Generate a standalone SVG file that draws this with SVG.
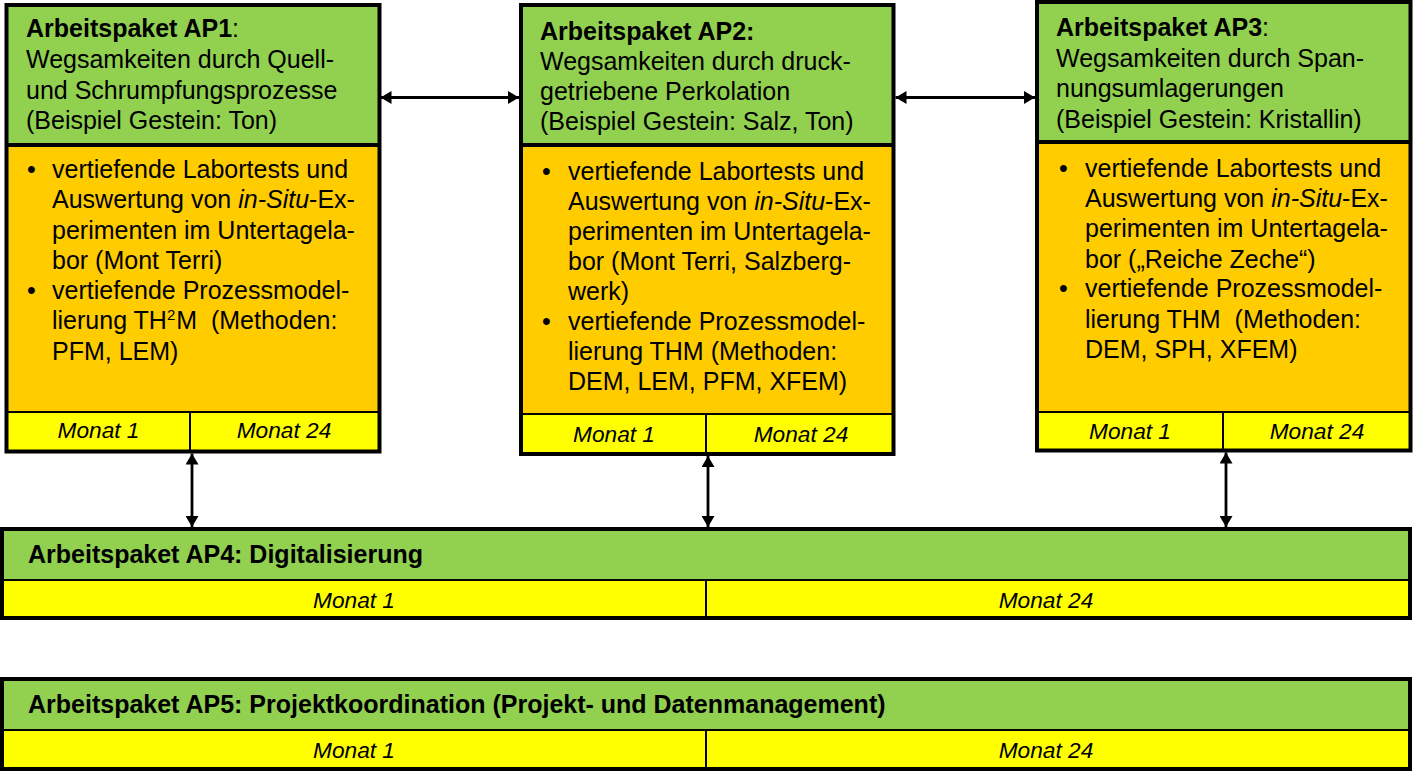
<svg xmlns="http://www.w3.org/2000/svg" width="1414" height="779" viewBox="0 0 1414 779">
  <style>
    text { font-family: "Liberation Sans", Arial, sans-serif; fill: #000; }
    .t { font-size: 25px; }
    .b { font-weight: bold; }
    .m { font-size: 22.7px; font-style: italic; text-anchor: middle; }
    .head { fill: #92D050; }
    .body { fill: #FFCC00; }
    .time { fill: #FFFF00; }
    .frame { fill: none; stroke: #000; stroke-width: 4; }
    .sep { stroke: #000; stroke-width: 4; }
    .thin { stroke: #000; stroke-width: 2; }
    .link { stroke: #000; stroke-width: 2.8; fill: none; marker-start: url(#tip); marker-end: url(#tip); }
  </style>
  <defs>
    <marker id="tip" viewBox="0 0 11 13" refX="11" refY="6.5" markerWidth="11" markerHeight="13" markerUnits="userSpaceOnUse" orient="auto-start-reverse">
      <path d="M0,0 L11,6.5 L0,13 z" fill="#000"/>
    </marker>
  </defs>

  <rect width="1414" height="779" fill="#fff"/>

  <!-- AP1 -->
  <g id="ap1">
    <rect class="head" x="6.5" y="5" width="373" height="140"/>
    <rect class="body" x="6.5" y="145" width="373" height="267"/>
    <rect class="time" x="6.5" y="412" width="373" height="39.5"/>
    <line class="sep" x1="6.5" y1="145" x2="379.5" y2="145"/>
    <line class="thin" x1="6.5" y1="412" x2="379.5" y2="412"/>
    <line class="thin" x1="190" y1="412" x2="190" y2="451.5"/>
    <rect class="frame" x="6.5" y="5" width="373" height="446.5"/>
    <text class="t" x="26" y="37"><tspan class="b">Arbeitspaket AP1</tspan>:</text>
    <text class="t" x="26" y="68">Wegsamkeiten durch Quell-</text>
    <text class="t" x="26" y="99">und Schrumpfungsprozesse</text>
    <text class="t" x="26" y="129">(Beispiel Gestein: Ton)</text>
    <text class="t" x="27" y="178">•</text>
    <text class="t" x="52" y="178">vertiefende Labortests und</text>
    <text class="t" x="52" y="208">Auswertung von <tspan font-style="italic">in-Situ</tspan>-Ex-</text>
    <text class="t" x="52" y="239">perimenten im Untertagela-</text>
    <text class="t" x="52" y="269">bor (Mont Terri)</text>
    <text class="t" x="27" y="299">•</text>
    <text class="t" x="52" y="299">vertiefende Prozessmodel-</text>
    <text class="t" x="52" y="329" xml:space="preserve">lierung TH<tspan font-size="15" dy="-9">2</tspan><tspan dy="9" dx="1">M  (Methoden:</tspan></text>
    <text class="t" x="52" y="360">PFM, LEM)</text>
    <text class="m" x="98.5" y="438">Monat 1</text>
    <text class="m" x="284" y="438">Monat 24</text>
  </g>

  <!-- AP2 -->
  <g id="ap2">
    <rect class="head" x="521" y="5" width="372.5" height="140"/>
    <rect class="body" x="521" y="145" width="372.5" height="269"/>
    <rect class="time" x="521" y="414" width="372.5" height="40"/>
    <line class="sep" x1="521" y1="145" x2="893.5" y2="145"/>
    <line class="thin" x1="521" y1="414" x2="893.5" y2="414"/>
    <line class="thin" x1="706" y1="414" x2="706" y2="454"/>
    <rect class="frame" x="521" y="5" width="372.5" height="449"/>
    <text class="t b" x="540" y="40">Arbeitspaket AP2:</text>
    <text class="t" x="540" y="70">Wegsamkeiten durch druck-</text>
    <text class="t" x="540" y="100">getriebene Perkolation</text>
    <text class="t" x="540" y="130">(Beispiel Gestein: Salz, Ton)</text>
    <text class="t" x="542" y="180">•</text>
    <text class="t" x="568" y="180">vertiefende Labortests und</text>
    <text class="t" x="568" y="210">Auswertung von <tspan font-style="italic">in-Situ</tspan>-Ex-</text>
    <text class="t" x="568" y="240">perimenten im Untertagela-</text>
    <text class="t" x="568" y="270">bor (Mont Terri, Salzberg-</text>
    <text class="t" x="568" y="300">werk)</text>
    <text class="t" x="542" y="330">•</text>
    <text class="t" x="568" y="330">vertiefende Prozessmodel-</text>
    <text class="t" x="568" y="360">lierung THM (Methoden:</text>
    <text class="t" x="568" y="390">DEM, LEM, PFM, XFEM)</text>
    <text class="m" x="614" y="442">Monat 1</text>
    <text class="m" x="801" y="442">Monat 24</text>
  </g>

  <!-- AP3 -->
  <g id="ap3">
    <rect class="head" x="1037" y="2" width="373.5" height="140"/>
    <rect class="body" x="1037" y="142" width="373.5" height="270"/>
    <rect class="time" x="1037" y="412" width="373.5" height="38.5"/>
    <line class="sep" x1="1037" y1="142" x2="1410.5" y2="142"/>
    <line class="thin" x1="1037" y1="412" x2="1410.5" y2="412"/>
    <line class="thin" x1="1223" y1="412" x2="1223" y2="450.5"/>
    <rect class="frame" x="1037" y="2" width="373.5" height="448.5"/>
    <text class="t" x="1056" y="36"><tspan class="b">Arbeitspaket AP3</tspan>:</text>
    <text class="t" x="1056" y="67">Wegsamkeiten durch Span-</text>
    <text class="t" x="1056" y="97">nungsumlagerungen</text>
    <text class="t" x="1056" y="128">(Beispiel Gestein: Kristallin)</text>
    <text class="t" x="1059" y="177">•</text>
    <text class="t" x="1085" y="177">vertiefende Labortests und</text>
    <text class="t" x="1085" y="207">Auswertung von <tspan font-style="italic">in-Situ</tspan>-Ex-</text>
    <text class="t" x="1085" y="237">perimenten im Untertagela-</text>
    <text class="t" x="1085" y="268">bor („Reiche Zeche“)</text>
    <text class="t" x="1059" y="297">•</text>
    <text class="t" x="1085" y="297">vertiefende Prozessmodel-</text>
    <text class="t" x="1085" y="328" xml:space="preserve">lierung THM  (Methoden:</text>
    <text class="t" x="1085" y="358">DEM, SPH, XFEM)</text>
    <text class="m" x="1130" y="439">Monat 1</text>
    <text class="m" x="1317" y="439">Monat 24</text>
  </g>

  <!-- AP4 -->
  <g id="ap4">
    <rect class="head" x="2" y="529" width="1408" height="51"/>
    <rect class="time" x="2" y="580" width="1408" height="38"/>
    <line class="thin" x1="2" y1="580" x2="1410" y2="580"/>
    <line class="thin" x1="706" y1="580" x2="706" y2="618"/>
    <rect class="frame" x="2" y="529" width="1408" height="89"/>
    <text class="t b" x="28" y="563">Arbeitspaket AP4: Digitalisierung</text>
    <text class="m" x="354" y="608">Monat 1</text>
    <text class="m" x="1046" y="608">Monat 24</text>
  </g>

  <!-- AP5 -->
  <g id="ap5">
    <rect class="head" x="2" y="679" width="1408" height="51"/>
    <rect class="time" x="2" y="730" width="1408" height="39"/>
    <line class="thin" x1="2" y1="730" x2="1410" y2="730"/>
    <line class="thin" x1="706" y1="730" x2="706" y2="769"/>
    <rect class="frame" x="2" y="679" width="1408" height="90"/>
    <text class="t b" x="28" y="713">Arbeitspaket AP5: Projektkoordination (Projekt- und Datenmanagement)</text>
    <text class="m" x="354" y="758">Monat 1</text>
    <text class="m" x="1046" y="758">Monat 24</text>
  </g>

  <!-- connectors -->
  <g id="connectors">
    <line class="link" x1="380.5" y1="97.5" x2="519" y2="97.5"/>
    <line class="link" x1="895.5" y1="97.5" x2="1035" y2="97.5"/>
    <line class="link" x1="192" y1="453.5" x2="192" y2="527"/>
    <line class="link" x1="708" y1="456" x2="708" y2="527"/>
    <line class="link" x1="1226" y1="452.5" x2="1226" y2="527"/>
  </g>
</svg>
